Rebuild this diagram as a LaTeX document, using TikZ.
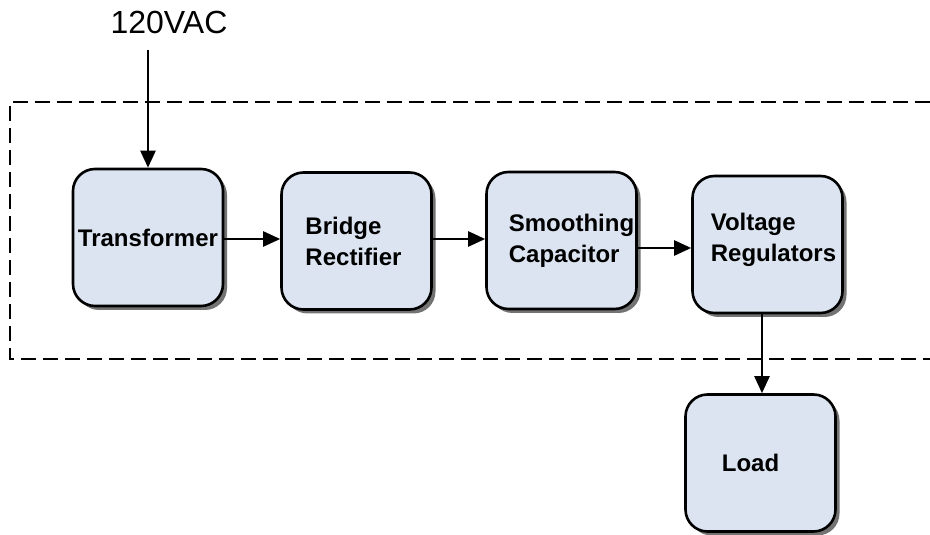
\documentclass[tikz,border=0pt]{standalone}
\usepackage{fontspec}
\setmainfont{Liberation Sans}
\usepackage[dvipsnames]{xcolor}
\usetikzlibrary{arrows.meta,shadows}
\definecolor{bloc}{HTML}{DBE4F0}
\tikzset{
  blk/.style={draw, rounded corners=22pt, fill=bloc, line width=2.6pt,
    minimum width=150pt, minimum height=137pt, inner sep=0pt,
    drop shadow={shadow xshift=4pt, shadow yshift=-4pt, fill=black!55, opacity=1}},
  txt/.style={align=left, font=\bfseries\fontsize{24}{31}\selectfont},
  fl/.style={-{Triangle[length=17pt,width=15pt]}, line width=2.4pt}
}
\begin{document}
\begin{tikzpicture}[x=10pt, y=10pt, line width=2pt]
\useasboundingbox (0,0) rectangle (93,53.5);
% Cadre en pointillés (ouvert à droite)
\draw[line width=1.6pt, dash pattern=on 15pt off 7pt] (93,43.3) -- (1,43.3) -- (1,17.6) -- (93,17.6);
% Blocs
\node[blk, label={[txt]center:Transformer}] (tr) at (14.8,29.75) {};
\node[blk, label={[txt, xshift=-3pt]center:Bridge\\Rectifier}] (br) at (35.65,29.4) {};
\node[blk, label={[txt, xshift=10pt]center:Smoothing\\Capacitor}] (sm) at (56.15,29.45) {};
\node[blk, label={[txt, xshift=6pt, yshift=5pt]center:Voltage\\Regulators}] (vr) at (76.75,29.05) {};
\node[blk, label={[txt, xshift=-10pt]center:Load}] (ld) at (76.05,7.2) {};
% Entrée secteur
\node[font=\fontsize{32}{38}\selectfont] (ac) at (16.9,51.3) {120VAC};
\coordinate (in) at (14.8,48.5);
% Flèches
\draw[fl] (in) -- (tr.north);
\draw[fl] (tr.east |- 0,29.6) -- (br.west |- 0,29.6);
\draw[fl] (br.east |- 0,29.6) -- (sm.west |- 0,29.6);
\draw[fl] (sm.east |- 0,28.7) -- (vr.west |- 0,28.7);
\draw[fl] (vr.south -| 76.2,0) -- (ld.north -| 76.2,0);
\end{tikzpicture}
\end{document}
